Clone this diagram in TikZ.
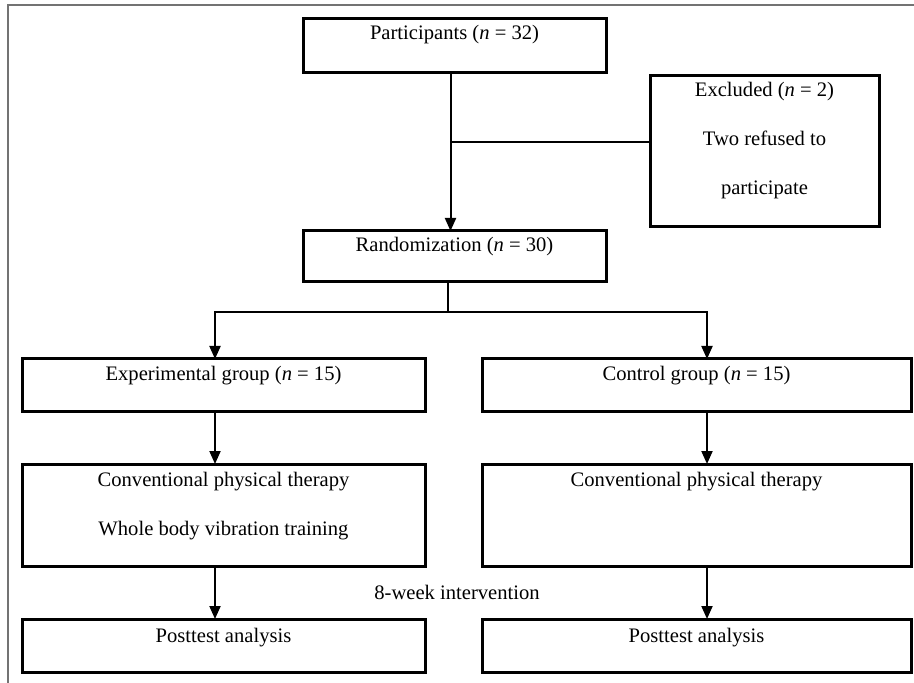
\documentclass[tikz,border=0pt]{standalone}
\usepackage{fontspec}
\setmainfont{Liberation Serif}
\usepackage{tikz}
\usetikzlibrary{arrows.meta}

\begin{document}
\begin{tikzpicture}[x=0.5pt,y=-0.5pt,
    font=\fontsize{10.3}{12.5}\selectfont,
    flowbox/.style={draw, line width=1.5pt, outer sep=0pt, inner sep=2pt,
        anchor=north west, align=center},
    flowline/.style={line width=1pt},
    flowarrow/.style={flowline, -{Triangle[width=5.5pt,length=6.5pt]}}]
    \useasboundingbox (0,0) rectangle (914,683);
    %% frame
    \draw[black!55, line width=0.6pt] (8,683) -- (8,5) -- (914,5);

    %% enrolment
    \node[flowbox, minimum width=151.5pt, minimum height=27pt,
        text height=8.5pt, text depth=14.5pt] (participants) at (303,19)
        {Participants (\textit{n} = 32)};
    \node[flowbox, minimum width=114.5pt, minimum height=75.5pt,
        text height=57.5pt, text depth=14pt] (excluded) at (650,76)
        {Excluded (\textit{n} = 2)\\[12pt]Two refused to\\[12pt]participate};
    \node[flowbox, minimum width=151.5pt, minimum height=25.5pt,
        text height=8.5pt, text depth=13pt] (randomization) at (303,231)
        {Randomization (\textit{n} = 30)};

    %% groups
    \node[flowbox, minimum width=201.5pt, minimum height=26.5pt,
        text height=9pt, text depth=13.5pt] (experimental) at (22,359)
        {Experimental group (\textit{n} = 15)};
    \node[flowbox, minimum width=214.5pt, minimum height=26.5pt,
        text height=9pt, text depth=13.5pt] (control) at (482,359)
        {Control group (\textit{n} = 15)};
    \node[flowbox, minimum width=201.5pt, minimum height=51pt,
        text height=33.5pt, text depth=13.5pt] (therapyE) at (22,464)
        {Conventional physical therapy\\[12pt]Whole body vibration training};
    \node[flowbox, minimum width=214.5pt, minimum height=51pt,
        text height=9pt, text depth=38pt] (therapyC) at (482,464)
        {Conventional physical therapy};
    \node[flowbox, minimum width=201.5pt, minimum height=26.5pt,
        text height=9.5pt, text depth=13pt] (posttestE) at (22,619)
        {Posttest analysis};
    \node[flowbox, minimum width=214.5pt, minimum height=26.5pt,
        text height=9.5pt, text depth=13pt] (posttestC) at (482,619)
        {Posttest analysis};
    \node (weeks) at (457,592) {8-week intervention};

    %% connectors
    \coordinate (split) at (450,142);
    \coordinate (fork) at (448,312);
    \draw[flowarrow] ([xshift=-2pt]participants.south) -- ([xshift=-2pt]randomization.north);
    \draw[flowline] (split) -- (split -| excluded.west);
    \draw[flowline] ([xshift=-3.25pt]randomization.south) -- (fork);
    \draw[flowarrow] (fork) -| ([xshift=-4.25pt]experimental.north);
    \draw[flowarrow] (fork) -| ([xshift=5.25pt]control.north);
    \foreach \from/\to/\shift in {experimental/therapyE/-4.25pt, therapyE/posttestE/-4.25pt,
        control/therapyC/5.25pt, therapyC/posttestC/5.25pt}
        \draw[flowarrow] ([xshift=\shift]\from.south) -- ([xshift=\shift]\to.north);
\end{tikzpicture}
\end{document}
